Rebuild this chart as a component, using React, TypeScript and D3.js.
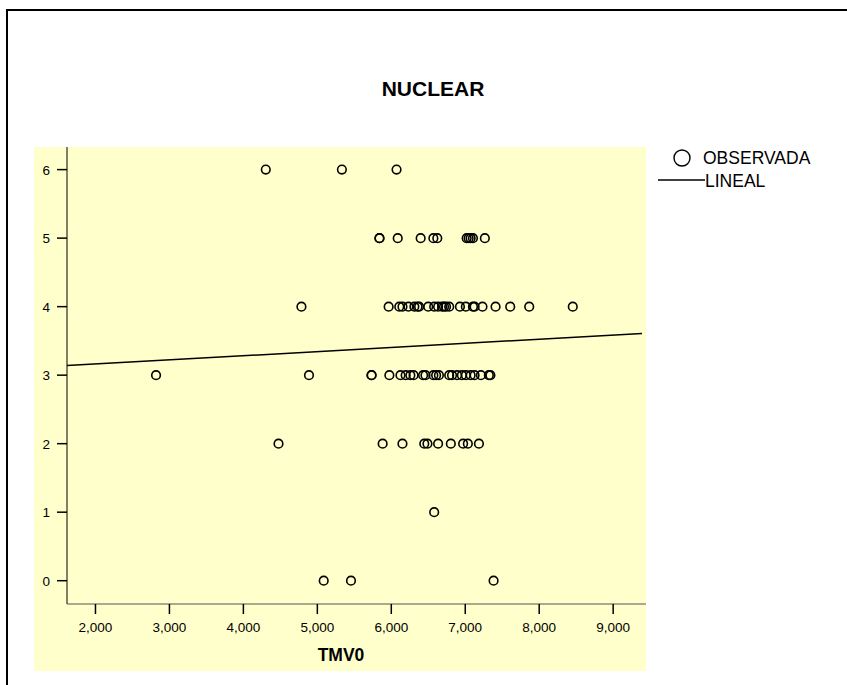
import React from "react";
import * as d3 from "d3";

const title = "NUCLEAR";
const xLabel = "TMV0";
const legendLabels = ["OBSERVADA", "LINEAL"];
const xTicks = [2000, 3000, 4000, 5000, 6000, 7000, 8000, 9000];
const yTicks = [0, 1, 2, 3, 4, 5, 6];

// observed points: TMV0 (x) and NUCLEAR (y)
const tmv0 = [
  4303, 5332, 6071,
  5840, 5840, 6087, 6397, 6569, 6622, 7019, 7046, 7073, 7104, 7265,
  4785, 5964, 6108, 6151, 6231, 6312, 6355, 6376, 6499, 6580, 6633, 6687, 6713, 6740, 6783, 6928, 7008, 7104, 7126, 7233, 7410, 7608, 7865, 8454,
  2819, 4887, 5733, 5733, 5974, 6124, 6194, 6258, 6301, 6430, 6462, 6569, 6606, 6644, 6783, 6821, 6890, 6954, 7008, 7073, 7126, 7212, 7319, 7340,
  4475, 5883, 6151, 6446, 6489, 6633, 6805, 6971, 7035, 7185,
  6580,
  5086, 5455, 7383,
];
const nuclear = [
  6, 6, 6,
  5, 5, 5, 5, 5, 5, 5, 5, 5, 5, 5,
  4, 4, 4, 4, 4, 4, 4, 4, 4, 4, 4, 4, 4, 4, 4, 4, 4, 4, 4, 4, 4, 4, 4, 4,
  3, 3, 3, 3, 3, 3, 3, 3, 3, 3, 3, 3, 3, 3, 3, 3, 3, 3, 3, 3, 3, 3, 3, 3,
  2, 2, 2, 2, 2, 2, 2, 2, 2, 2,
  1,
  0, 0, 0,
];
// linear fit
const fitIntercept = [3.042];
const fitSlope = [0.0000604];

export default function App() {
  const W = 847, H = 685;
  const left = 67, right = 642, top = 147, bottom = 604;
  const x = d3.scaleLinear().domain([1615, 9390]).range([left, right]);
  const y = d3.scaleLinear().domain([-0.34, 6.33]).range([bottom, top]);
  const fmt = d3.format(",");
  const font = "Arial, 'Liberation Sans', Helvetica, sans-serif";
  const xd = x.domain();
  const line = d3.line<number>().x((d) => x(d)).y((d) => y(fitIntercept[0] + fitSlope[0] * d));

  return (
    <svg width={W} height={H} style={{ position: "absolute", left: 0, top: 0 }} fontFamily={font}>
      <rect x={0} y={0} width={W} height={H} fill="white" />
      <rect x={7} y={10} width={W + 20} height={H + 20} fill="none" stroke="black" strokeWidth={2} />
      <text x={433} y={96} textAnchor="middle" fontSize={21} fontWeight="bold">{title}</text>
      <rect x={34} y={147} width={right - 34 + 4} height={524} fill="#ffffcc" />
      <path d={line(xd) || ""} fill="none" stroke="black" strokeWidth={1.5} />
      {tmv0.map((v, i) => (
        <circle key={i} cx={x(v)} cy={y(nuclear[i])} r={4.3} fill="none" stroke="black" strokeWidth={1.6} />
      ))}
      <line x1={left} x2={left} y1={top} y2={bottom} stroke="black" strokeWidth={1} />
      <line x1={left} x2={right + 4} y1={bottom} y2={bottom} stroke="#555" strokeWidth={1} />
      {yTicks.map((t) => (
        <g key={t}>
          <line x1={left - 10} x2={left} y1={y(t)} y2={y(t)} stroke="black" strokeWidth={1.5} />
          <text x={left - 17} y={y(t) + 5} textAnchor="end" fontSize={13.5}>{t}</text>
        </g>
      ))}
      {xTicks.map((t) => (
        <g key={t}>
          <line x1={x(t)} x2={x(t)} y1={bottom} y2={bottom + 10} stroke="black" strokeWidth={1.5} />
          <text x={x(t)} y={bottom + 28} textAnchor="middle" fontSize={13.5}>{fmt(t)}</text>
        </g>
      ))}
      <text x={341} y={661} textAnchor="middle" fontSize={17.5} fontWeight="bold">{xLabel}</text>
      <circle cx={682} cy={158} r={8} fill="none" stroke="black" strokeWidth={1.4} />
      <text x={703} y={164} fontSize={17.5}>{legendLabels[0]}</text>
      <line x1={658} x2={705} y1={180} y2={180} stroke="black" strokeWidth={1.4} />
      <text x={705} y={187} fontSize={17.5}>{legendLabels[1]}</text>
    </svg>
  );
}
